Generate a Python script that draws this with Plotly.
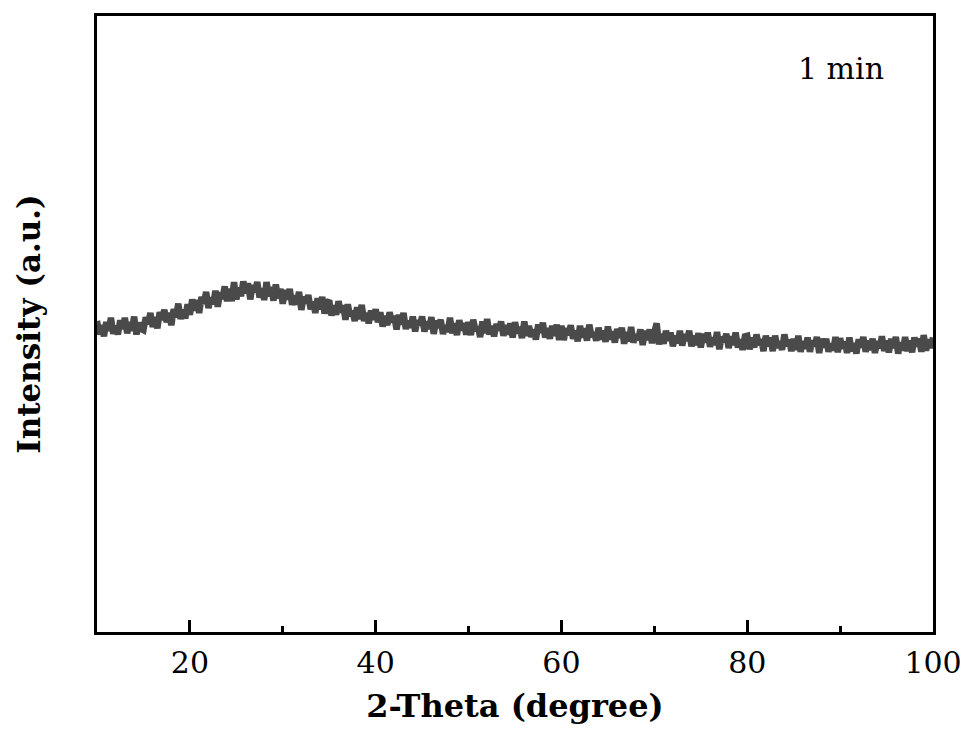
import numpy as np
import plotly.graph_objects as go

# 2-Theta grid (degrees), 0.25 step from 10 to 100
two_theta = np.round(np.arange(10.0, 100.001, 0.25), 2)

# Intensity (arbitrary units)
intensity = [
    50.5, 48.3, 49.8, 48.0, 50.3, 48.9, 51.0, 48.4, 49.7, 48.3, 50.6, 49.2, 51.0, 48.5, 50.3, 48.9, 51.2, 48.3, 50.2, 49.2,
    49.0, 51.1, 50.0, 51.8, 49.5, 51.1, 49.3, 51.9, 50.7, 52.3, 50.3, 51.8, 49.8, 52.4, 51.1, 53.3, 50.8, 52.3, 50.9, 53.2,
    51.5, 54.0, 52.2, 53.9, 51.8, 54.4, 53.3, 55.2, 52.6, 54.3, 53.2, 55.4, 52.8, 55.1, 54.1, 56.1, 53.7, 55.7, 53.7, 56.8,
    54.0, 55.9, 54.5, 56.9, 55.0, 56.6, 54.0, 56.3, 55.2, 56.8, 54.3, 55.8, 53.9, 56.8, 54.5, 56.0, 53.8, 56.4, 54.2, 55.7,
    53.3, 55.5, 54.0, 55.7, 53.1, 54.6, 53.2, 55.2, 52.3, 54.4, 53.4, 54.7, 52.4, 53.6, 51.8, 54.2, 52.4, 54.4, 51.7, 53.4,
    53.8, 51.4, 53.0, 51.5, 53.7, 51.9, 53.0, 50.7, 53.2, 51.3, 52.1, 50.5, 52.7, 50.8, 53.1, 50.5, 51.8, 50.1, 52.2, 50.7,
    52.4, 50.3, 51.9, 49.6, 51.3, 49.8, 51.9, 50.3, 51.3, 49.1, 51.5, 49.9, 51.8, 49.2, 50.5, 49.4, 51.2, 48.8, 50.6, 49.8,
    51.2, 48.8, 50.4, 49.2, 51.1, 48.4, 50.5, 49.4, 50.7, 48.4, 49.8, 48.7, 51.0, 48.5, 50.1, 48.2, 50.6, 49.0, 50.1, 48.3,
    50.3, 48.2, 50.7, 48.9, 49.6, 47.9, 50.4, 48.5, 50.8, 48.3, 49.7, 48.0, 50.0, 49.0, 50.4, 48.1, 49.8, 48.3, 50.1, 47.8,
    50.3, 48.5, 49.5, 47.7, 50.4, 48.1, 49.7, 47.9, 49.1, 47.5, 49.9, 48.6, 50.2, 47.8, 49.3, 47.6, 49.7, 48.1, 49.9, 47.4,
    49.7, 47.4, 49.3, 48.2, 49.8, 47.6, 48.9, 47.2, 49.7, 47.8, 49.3, 47.3, 49.9, 47.9, 48.6, 47.3, 49.4, 47.5, 48.9, 47.1,
    49.6, 47.5, 48.8, 47.0, 49.2, 47.8, 49.4, 46.8, 48.7, 47.2, 49.5, 47.0, 48.3, 47.4, 49.1, 46.6, 48.9, 47.4, 49.1, 46.9,
    48.7, 50.1, 46.7, 48.4, 46.8, 48.9, 47.3, 48.6, 46.4, 48.1, 46.9, 48.9, 46.5, 48.3, 47.3, 48.9, 46.4, 48.1, 46.6, 48.5,
    46.2, 48.4, 47.0, 48.6, 46.3, 47.8, 46.6, 48.7, 45.9, 47.9, 47.1, 48.4, 46.1, 48.0, 46.6, 48.6, 46.2, 47.5, 45.8, 48.0,
    48.1, 45.9, 47.8, 46.2, 48.3, 46.6, 47.5, 45.6, 48.1, 46.4, 47.8, 45.6, 48.1, 46.1, 47.2, 45.8, 48.3, 46.4, 47.4, 45.6,
    47.6, 45.8, 48.1, 45.5, 47.2, 46.0, 47.8, 45.5, 47.3, 46.4, 47.9, 45.3, 47.6, 46.2, 47.6, 45.5, 46.8, 45.7, 47.9, 45.4,
    47.7, 46.0, 47.1, 45.3, 47.8, 45.6, 46.9, 45.2, 47.5, 46.2, 47.9, 45.5, 47.3, 45.8, 47.6, 45.3, 47.2, 46.1, 48.0, 45.6,
    47.3, 45.4, 47.6, 46.1, 47.9, 45.2, 47.0, 45.7, 47.9, 45.6, 47.3, 45.4, 47.8, 46.4, 47.6, 45.5, 48.2, 45.7, 47.5, 46.1,
    47.8,
]

x_tick_vals = [20, 40, 60, 80, 100]
x_tick_text = ["20", "40", "60", "80", "100"]
sample_label = "1 min"

FONT = "DejaVu Serif"

fig = go.Figure()
fig.add_trace(go.Scatter(
    x=two_theta, y=intensity, mode="lines",
    line=dict(color="#4a4a4a", width=6.5),
    showlegend=False, hoverinfo="skip",
))

fig.update_layout(
    width=960, height=721,
    margin=dict(l=89, r=35, t=5, b=97),
    paper_bgcolor="white", plot_bgcolor="white",
    font=dict(family=FONT, color="black"),
    xaxis=dict(
        range=[10, 100], tickvals=x_tick_vals, ticktext=x_tick_text,
        ticks="inside", ticklen=12, tickwidth=2.5, tickcolor="black",
        minor=dict(tickvals=[30, 50, 70, 90], ticks="inside", ticklen=6,
                   tickwidth=2.5, tickcolor="black"),
        showline=True, linewidth=3, linecolor="black", mirror=True,
        showgrid=False, zeroline=False,
        tickfont=dict(family=FONT, size=30, color="black"),
        ticklabelstandoff=2,
        title=dict(text="<b>2-Theta (degree)</b>",
                   font=dict(family=FONT, size=32, color="black"),
                   standoff=16),
    ),
    yaxis=dict(
        range=[0, 100], showticklabels=False, ticks="",
        showline=True, linewidth=3, linecolor="black", mirror=True,
        showgrid=False, zeroline=False,
        title=dict(text="<b>Intensity (a.u.)</b>",
                   font=dict(family=FONT, size=31, color="black"),
                   standoff=45),
    ),
    annotations=[dict(
        x=0.89, y=0.915, xref="paper", yref="paper",
        text=sample_label, showarrow=False,
        font=dict(family=FONT, size=30, color="black"),
        xanchor="center", yanchor="middle",
    )],
)

fig.write_html("out.html")
